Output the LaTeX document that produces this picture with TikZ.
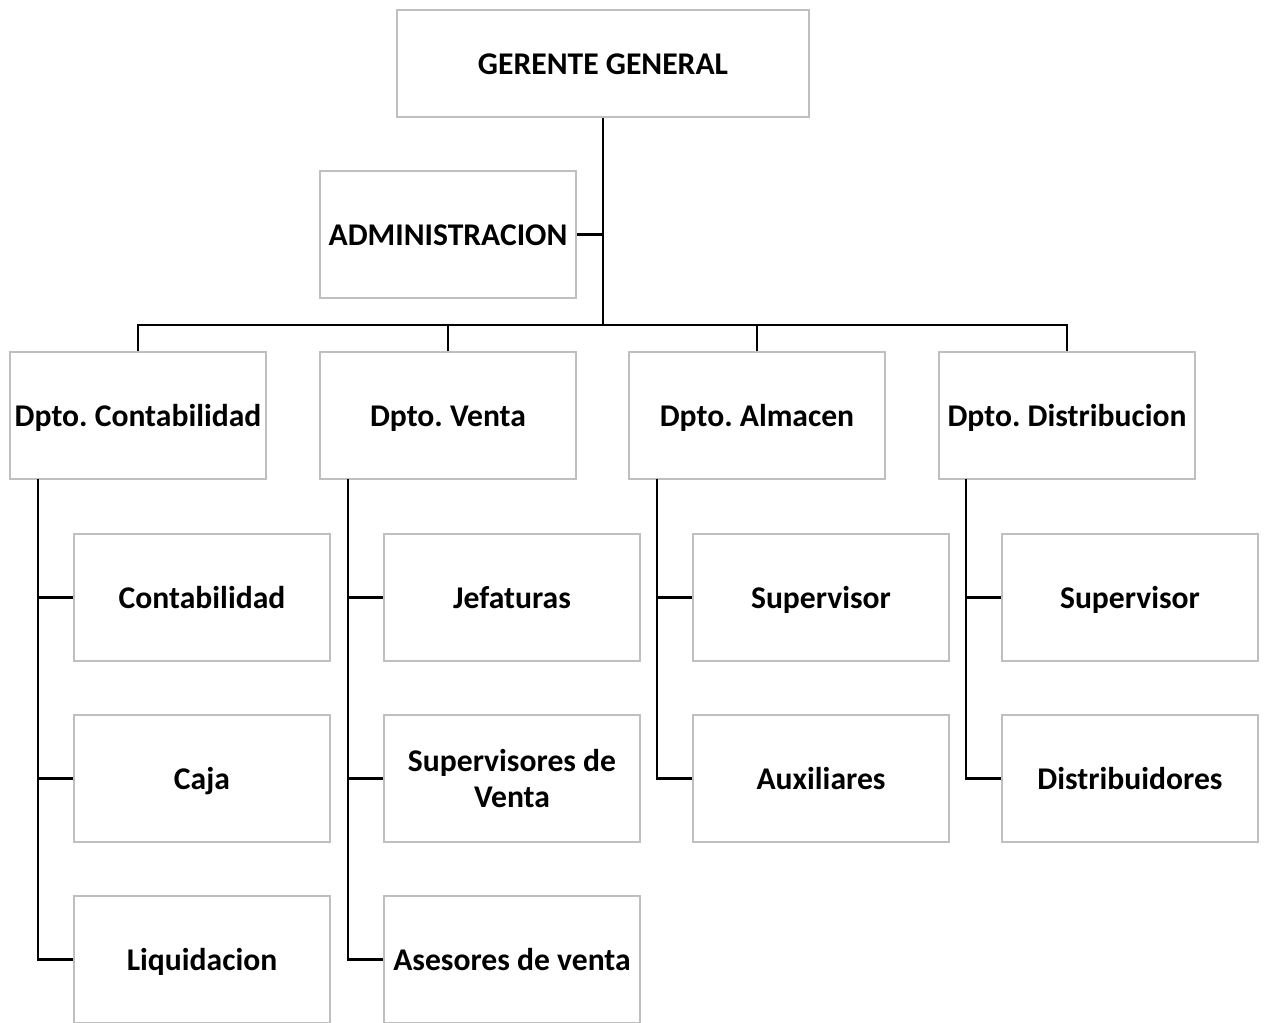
\documentclass[tikz,border=0pt]{standalone}
\usepackage{fontspec}
\setmainfont{Carlito}
\usepackage{tikz}
\definecolor{gris}{rgb}{0.75,0.75,0.75}
\frenchspacing

\begin{document}
\begin{tikzpicture}[x=0.02cm, y=-0.02cm, line width=1.6pt]
  \tikzstyle{caja}=[rectangle, draw=gris, line width=1.1pt, fill=white, minimum width=5.12cm, minimum height=2.54cm, align=center, inner sep=2pt, text height=13.7pt, text depth=1.7pt, font=\fontsize{18}{21}\selectfont\bfseries]
  \useasboundingbox (0,0) rectangle (1264,1023);

	\node[caja, minimum width=8.24cm, minimum height=2.14cm] (gerente) at (603,63.5) {GERENTE GENERAL};
	\node[caja] (admin) at (448,234.5) {ADMINISTRACION};

	\node[caja] (dcont) at (138,415.5) {Dpto. Contabilidad};
	\node[caja] (dventa) at (448,415.5) {Dpto. Venta};
	\node[caja] (dalm) at (757,415.5) {Dpto. Almacen};
	\node[caja] (ddist) at (1067,415.5) {Dpto. Distribucion};

	\node[caja] (cont) at (202,597.5) {Contabilidad};
	\node[caja] (caja) at (202,778.5) {Caja};
	\node[caja] (liq) at (202,959.5) {Liquidacion};

	\node[caja] (jef) at (512,597.5) {Jefaturas};
	\node[caja, text height=35.2pt] (supv) at (512,778.5) {Supervisores de\\Venta};
	\node[caja] (ases) at (512,959.5) {Asesores de venta};

	\node[caja] (supa) at (821,597.5) {Supervisor};
	\node[caja] (aux) at (821,778.5) {Auxiliares};

	\node[caja] (supd) at (1130,597.5) {Supervisor};
	\node[caja] (distr) at (1130,778.5) {Distribuidores};

	\coordinate (bus) at (603,325);
	\coordinate (lc) at (38,479);
	\coordinate (lv) at (348,479);
	\coordinate (la) at (657,479);
	\coordinate (ld) at (966,479);

	\draw (gerente.south) -- (bus);
	\draw (admin.east) -- (admin.east -| gerente.south);
	\draw (dcont.north) |- (bus);
	\draw (dventa.north) |- (bus);
	\draw (dalm.north) |- (bus);
	\draw (ddist.north) |- (bus);

	\draw (lc) |- (cont.west);
	\draw (lc) |- (caja.west);
	\draw (lc) |- (liq.west);
	\draw (lv) |- (jef.west);
	\draw (lv) |- (supv.west);
	\draw (lv) |- (ases.west);
	\draw (la) |- (supa.west);
	\draw (la) |- (aux.west);
	\draw (ld) |- (supd.west);
	\draw (ld) |- (distr.west);

\end{tikzpicture}
\end{document}
